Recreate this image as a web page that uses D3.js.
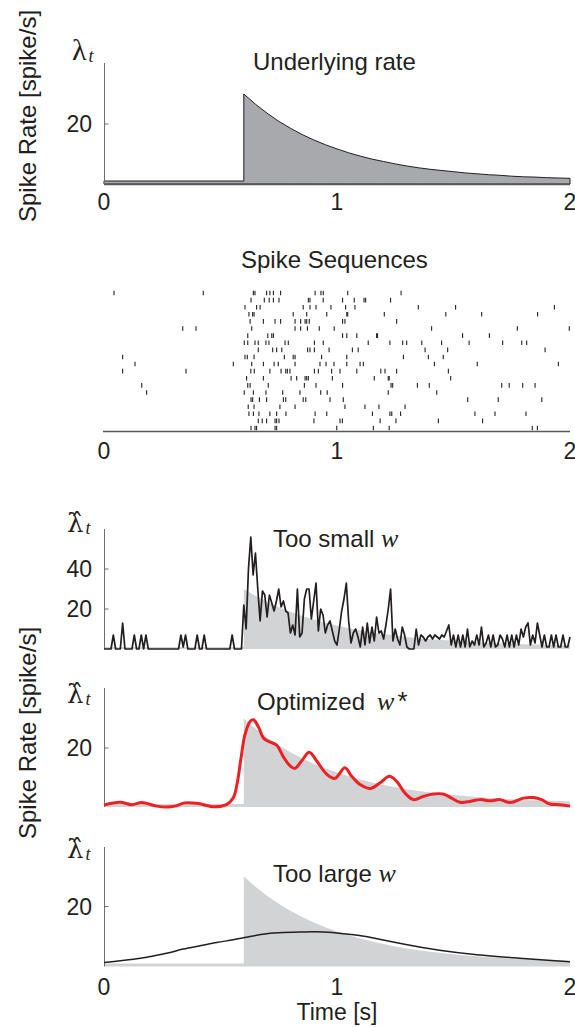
<!DOCTYPE html>
<html>
<head>
<meta charset="utf-8">
<script src="https://cdn.jsdelivr.net/npm/d3@7"></script>
<style>
  body { margin: 0; background: #fff; }
  text { font-family: "Liberation Sans", Arial, sans-serif; fill: #231f20; }
</style>
</head>
<body>
<svg width="575" height="1027"></svg>
<script>
// underlying rate (spike/s), sampled off the top panel
const rateT = [0, 0.6, 0.6, 0.65, 0.7, 0.75, 0.8, 0.85, 0.9, 0.95, 1.0, 1.05, 1.1, 1.15, 1.2, 1.25,
  1.3, 1.35, 1.4, 1.45, 1.5, 1.55, 1.6, 1.65, 1.7, 1.75, 1.8, 1.85, 1.9, 1.95, 2.0];
const rateV = [1, 1, 30, 26.6, 23.6, 20.9, 18.6, 16.5, 14.7, 13.1, 11.7, 10.4, 9.3, 8.3, 7.5, 6.7,
  6.0, 5.4, 4.9, 4.5, 4.1, 3.7, 3.4, 3.1, 2.9, 2.6, 2.4, 2.3, 2.1, 2.0, 1.9];

// spike times per trial (s), top row first
const spikeTimes = [
  [0.043, 0.426, 0.641, 0.648, 0.698, 0.712, 0.727, 0.758, 0.906, 0.931, 0.941, 1.046, 1.275],
  [0.631, 0.688, 0.709, 0.727, 0.751, 0.877, 0.884, 0.941, 1.024, 1.074, 1.116, 1.123, 1.230],
  [0.605, 0.655, 0.670, 0.855, 0.884, 0.910, 0.974, 1.037, 1.077, 1.349, 1.509, 1.933],
  [0.622, 0.638, 0.644, 0.812, 0.870, 0.956, 1.042, 1.046, 1.203, 1.467, 1.621, 1.861],
  [0.627, 0.684, 0.734, 0.758, 0.820, 0.844, 0.863, 0.870, 0.881, 1.024, 1.034, 1.256],
  [0.338, 0.395, 0.634, 0.820, 0.844, 0.873, 0.924, 0.988, 1.406, 1.774, 1.997],
  [0.617, 0.703, 0.720, 0.727, 1.024, 1.042, 1.085, 1.170, 1.174, 1.539, 1.654],
  [0.602, 0.617, 0.648, 0.662, 0.695, 0.708, 0.777, 0.791, 0.903, 0.941, 1.134, 1.227, 1.282, 1.299, 1.364, 1.449, 1.567, 1.711, 1.793, 1.814],
  [0.662, 0.724, 0.741, 0.763, 0.874, 0.884, 0.903, 0.966, 1.066, 1.091, 1.378, 1.475, 1.893],
  [0.080, 0.605, 0.615, 0.644, 0.774, 0.812, 0.820, 0.934, 1.042, 1.285, 1.392, 1.456],
  [0.133, 0.555, 0.634, 0.684, 0.730, 0.748, 0.820, 0.927, 0.953, 0.987, 1.042, 1.099, 1.113, 1.418, 1.602, 1.950],
  [0.080, 0.352, 0.630, 0.645, 0.712, 0.760, 0.780, 0.787, 0.798, 0.903, 0.920, 0.977, 1.013, 1.085, 1.188, 1.206, 1.256, 1.478],
  [0.612, 0.684, 0.803, 0.827, 0.863, 0.870, 0.877, 0.980, 1.160, 1.220, 1.224, 1.488],
  [0.162, 0.617, 0.627, 0.705, 0.860, 0.910, 1.024, 1.232, 1.239, 1.345, 1.396, 1.707, 1.739, 1.797, 1.850],
  [0.183, 0.602, 0.641, 0.695, 0.767, 0.841, 0.930, 0.958, 1.220, 1.428],
  [0.631, 0.638, 0.667, 0.698, 0.770, 0.780, 0.855, 0.866, 0.970, 1.027, 1.561, 1.692, 1.879],
  [0.619, 0.644, 0.755, 0.820, 1.034, 1.120, 1.180, 1.292],
  [0.622, 0.641, 0.665, 0.712, 0.741, 0.781, 0.906, 0.956, 1.152, 1.227, 1.235, 1.273, 1.592, 1.678, 1.811],
  [0.662, 0.679, 0.698, 0.734, 0.741, 0.751, 0.901, 1.013, 1.023, 1.185, 1.253, 1.435, 1.625],
  [0.631, 0.648, 0.655, 0.734, 0.741, 0.999, 1.156, 1.224, 1.838, 1.860]
];

// "too small w" estimate, one value every 10 ms from 0 to 2 s
const smallStep = 0.01;
const smallV = [
  0, 0, 0, 0, 7, 0, 0, 0, 13, 0,
  0, 0, 0, 7, 0, 0, 7, 0, 7, 0,
  0, 0, 0, 0, 0, 0, 0, 0, 0, 0,
  0, 0, 0, 7, 1, 7, 0, 0, 0, 0,
  7, 0, 0, 7, 0, 0, 0, 0, 0, 0,
  0, 0, 0, 0, 0, 7, 0, 0, 0, 0,
  22, 10, 40, 56, 37, 48, 30, 14, 29, 27,
  16, 27, 23, 19, 24, 30, 21, 24, 19, 18,
  8, 12, 7, 30, 6, 8, 25, 30, 30, 15,
  24, 33, 9, 20, 17, 8, 12, 14, 9, 4,
  2, 10, 19, 25, 33, 14, 3, 8, 10, 6,
  1, 11, 2, 13, 3, 11, 4, 16, 8, 9,
  5, 12, 20, 30, 4, 10, 5, 2, 11, 7,
  1, 0, 0, 0, 10, 2, 7, 6, 4, 6,
  7, 5, 7, 6, 5, 7, 6, 9, 12, 2,
  7, 1, 7, 1, 7, 1, 10, 1, 4, 2,
  7, 2, 11, 1, 3, 7, 1, 7, 1, 2,
  7, 5, 1, 7, 1, 7, 1, 7, 2, 10,
  6, 11, 13, 2, 7, 3, 13, 7, 1, 7,
  1, 1, 7, 1, 7, 1, 1, 7, 1, 1,
  6
];

// optimized w* estimate (red)
const optT = [0, 0.069, 0.12, 0.162, 0.226, 0.269, 0.305, 0.348, 0.405, 0.469, 0.527, 0.555, 0.572, 0.587,
  0.605, 0.627, 0.641, 0.662, 0.684, 0.705, 0.741, 0.770, 0.798, 0.820, 0.848, 0.881, 0.913, 0.956, 0.991,
  1.034, 1.063, 1.099, 1.142, 1.185, 1.225, 1.256, 1.292, 1.328, 1.371, 1.413, 1.456, 1.492, 1.528, 1.571,
  1.614, 1.657, 1.700, 1.735, 1.757, 1.800, 1.843, 1.878, 1.914, 1.957, 2.0];
const optV = [0.7, 1.6, 0.8, 1.5, 0.3, 0.0, 0.3, 1.4, 1.2, 0.1, 0.9, 3.1, 8.2, 16, 24.5, 29, 29.6, 27.3,
  23.4, 22.3, 21, 17, 14, 13.1, 15.6, 18.6, 15.6, 11.1, 9.7, 13.3, 10.4, 7.6, 6.3, 8.2, 10.4, 8.7, 4.7, 2.5,
  3.6, 4.4, 4.4, 3.0, 1.6, 1.9, 2.5, 2.1, 2.5, 1.6, 1.7, 3.0, 3.2, 2.5, 1.0, 0.8, 0.3];

// "too large w" estimate
const largeT = [0, 0.126, 0.197, 0.269, 0.34, 0.412, 0.484, 0.555, 0.627, 0.698, 0.77, 0.84, 0.91, 0.98,
  1.06, 1.13, 1.29, 1.44, 1.60, 1.76, 1.92, 2.0];
const largeV = [1.3, 2.4, 3.3, 4.4, 5.8, 6.9, 8.0, 8.9, 10.0, 10.9, 11.3, 11.5, 11.6, 11.3, 10.7, 9.9,
  7.4, 5.4, 3.9, 2.9, 2.0, 1.6];

const xTicks = [0, 1, 2];
const topTicks = [20];
const smallTicks = [20, 40];
const optTicks = [20];
const largeTicks = [20];

var svg = d3.select("svg");
var x = d3.scaleLinear().domain([0, 2]).range([104, 570]);

var rate = rateT.map(function (t, i) { return [t, rateV[i]]; });
var small = smallV.map(function (v, i) { return [i * smallStep, v]; });
var opt = optT.map(function (t, i) { return [t, optV[i]]; });
var large = largeT.map(function (t, i) { return [t, largeV[i]]; });

var serif = "'Liberation Serif', 'Times New Roman', serif";

// y axis, ticks on the inside, labels on the left
function yAxis(g, y, ticks) {
  g.append("line")
    .attr("x1", 104.5).attr("x2", 104.5)
    .attr("y1", y.range()[1]).attr("y2", y.range()[0])
    .attr("stroke", "#6d6e71").attr("stroke-width", 1);
  ticks.forEach(function (v) {
    g.append("line")
      .attr("x1", 104.5).attr("x2", 108.5)
      .attr("y1", y(v)).attr("y2", y(v))
      .attr("stroke", "#6d6e71");
    g.append("text")
      .attr("x", 92).attr("y", y(v)).attr("dy", "0.36em")
      .attr("text-anchor", "end").attr("font-size", 23)
      .text(v);
  });
}

function xLabels(g, baseY) {
  xTicks.forEach(function (t) {
    g.append("text")
      .attr("x", x(t)).attr("y", baseY)
      .attr("text-anchor", "middle").attr("font-size", 23)
      .text(t);
  });
}

// λ_t; the estimates get a combining hat (one glyph run, DejaVu places the mark)
function lambda(g, lx, by, hat) {
  var t = g.append("text").attr("x", lx).attr("y", by);
  if (hat) {
    t.append("tspan").attr("font-size", 26).style("font-family", "'DejaVu Serif', serif").text("λ\u0302");
  } else {
    t.append("tspan").attr("font-size", 30).style("font-family", serif).text("λ");
  }
  t.append("tspan").attr("font-size", 18).attr("font-style", "italic").style("font-family", serif)
    .attr("dx", 2).attr("dy", 2).text("t");
}

function title(g, tx, ty, main, italic, extra) {
  var t = g.append("text").attr("x", tx).attr("y", ty).attr("font-size", 24);
  t.append("tspan").text(main);
  if (italic) {
    t.append("tspan").attr("dx", extra ? 12 : 0)
      .attr("font-style", "italic").attr("font-size", 26)
      .style("font-family", serif)
      .text(italic);
  }
  if (extra) t.append("tspan").attr("dx", 3).attr("font-size", 26).text(extra);
}

function yLabel(cy) {
  svg.append("text")
    .attr("transform", "translate(36," + cy + ") rotate(-90)")
    .attr("text-anchor", "middle").attr("font-size", 24)
    .text("Spike Rate [spike/s]");
}

// ---- panel 1: underlying rate
var y1 = d3.scaleLinear().domain([0, 121 / 3]).range([184, 63]);
var p1 = svg.append("g");
p1.append("path").datum(rate)
  .attr("d", d3.area().x(function (d) { return x(d[0]); }).y0(y1(0)).y1(function (d) { return y1(d[1]); }))
  .attr("fill", "#a7a9ac").attr("stroke", "#231f20").attr("stroke-width", 1);
p1.append("line").attr("x1", 104).attr("x2", 570).attr("y1", 184.5).attr("y2", 184.5)
  .attr("stroke", "#58595b").attr("stroke-width", 1.5);
yAxis(p1, y1, topTicks);
xLabels(p1, 210);
lambda(p1, 72, 60, false);
title(p1, 253, 70, "Underlying rate");
yLabel(116);

// ---- panel 2: raster
var row = d3.scalePoint().domain(d3.range(spikeTimes.length)).range([293, 428]);
var p2 = svg.append("g");
title(p2, 241, 268, "Spike Sequences");
spikeTimes.forEach(function (trial, i) {
  p2.selectAll(null).data(trial).enter().append("line")
    .attr("x1", function (d) { return x(d); }).attr("x2", function (d) { return x(d); })
    .attr("y1", row(i) - 2.3).attr("y2", row(i) + 2.3)
    .attr("stroke", "#231f20").attr("stroke-width", 1.1);
});
p2.append("line").attr("x1", 103).attr("x2", 570).attr("y1", 431.5).attr("y2", 431.5)
  .attr("stroke", "#58595b").attr("stroke-width", 1.5);
xLabels(p2, 459);

// shared pieces for the estimate panels
function estimatePanel(y, ticks, data, curve, color, width) {
  var g = svg.append("g");
  g.append("path").datum(rate)
    .attr("d", d3.area().x(function (d) { return x(d[0]); }).y0(y(0)).y1(function (d) { return y(d[1]); }))
    .attr("fill", "#d1d3d4");
  yAxis(g, y, ticks);
  g.append("path").datum(data)
    .attr("d", d3.line().x(function (d) { return x(d[0]); }).y(function (d) { return y(d[1]); }).curve(curve))
    .attr("fill", "none").attr("stroke", color).attr("stroke-width", width)
    .attr("stroke-linejoin", "round");
  return g;
}

// ---- panel 3: too small w
var y3 = d3.scaleLinear().domain([0, 60]).range([649, 529]);
var p3 = estimatePanel(y3, smallTicks, small, d3.curveLinear, "#231f20", 1.7);
lambda(p3, 67, 532, true);
title(p3, 273, 547, "Too small ", "w");

// ---- panel 4: optimized
var y4 = d3.scaleLinear().domain([0, 119 / 2.95]).range([807, 688]);
var p4 = estimatePanel(y4, optTicks, opt, d3.curveCatmullRom.alpha(0.5), "#ed2024", 3);
lambda(p4, 67, 703, true);
title(p4, 257, 710, "Optimized", "w", "*");
yLabel(733);

// ---- panel 5: too large w
var y5 = d3.scaleLinear().domain([0, 119.5 / 3]).range([966.5, 847]);
var p5 = estimatePanel(y5, largeTicks, large, d3.curveNatural, "#231f20", 1.5);
lambda(p5, 67, 858, true);
title(p5, 273, 882, "Too large ", "w");
xLabels(p5, 995);
p5.append("text").attr("x", x(1)).attr("y", 1020)
  .attr("text-anchor", "middle").attr("font-size", 23)
  .text("Time [s]");
</script>
</body>
</html>
